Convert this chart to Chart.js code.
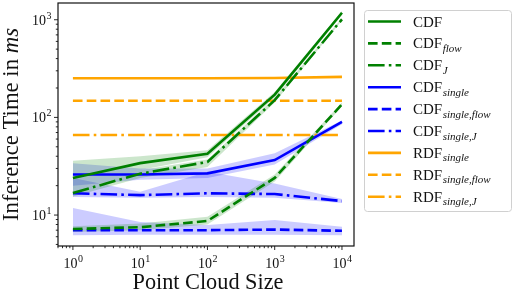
<!DOCTYPE html>
<html>
<head>
<meta charset="utf-8">
<script src="https://cdn.jsdelivr.net/npm/chart.js@4.4.1/dist/chart.umd.min.js"></script>
<style>
  html, body { margin: 0; padding: 0; background: #fff; }
  #wrap { width: 514px; height: 294px; }
</style>
</head>
<body>
<div id="wrap"><canvas id="chart" width="514" height="294"></canvas></div>
<script>
// point cloud sizes (x) and inference times in ms (y)
const sizes = [1, 10, 100, 1000, 10000];
const cdf = [24, 34, 42.5, 171, 1180];
const cdfFlow = [7.2, 7.5, 8.7, 24, 136];
const cdfJ = [16.8, 26.5, 35, 150, 1010];
const cdfSingle = [26, 26, 26.7, 36.5, 90];
const cdfSingleFlow = [7.0, 7.0, 7.0, 7.1, 6.9];
const cdfSingleJ = [16.7, 16, 16.7, 16.4, 13.9];
const rdfSingle = [252, 252, 252, 253, 260];
const rdfSingleFlow = [148, 148, 148, 148, 148];
const rdfSingleJ = [66, 66, 66, 66, 66];

// spread bands (lower / upper)
const cdfLo = [18, 29, 39, 160, 1120];
const cdfHi = [36, 40, 46, 182, 1230];
const cdfJLo = [15.5, 24, 31, 142, 980];
const cdfJHi = [18, 29, 37, 158, 1040];
const cdfFlowLo = [6.7, 7.0, 8.0, 22, 130];
const cdfFlowHi = [7.7, 8.2, 9.6, 26, 142];
const cdfSingleLo = [20, 23, 24, 33, 85];
const cdfSingleHi = [34, 30, 30, 43, 93];
const cdfSingleJLo = [15.3, 15, 15.3, 15, 13.3];
const cdfSingleJHi = [24, 17.3, 27.7, 21, 14.6];
const cdfSingleFlowLo = [6.2, 6.3, 6.3, 6.3, 6.2];
const cdfSingleFlowHi = [11.8, 8.5, 7.9, 8.9, 7.6];

const xTicks = [1, 10, 100, 1000, 10000];
const yTicks = [10, 100, 1000];

const SERIF = '"Liberation Serif", "DejaVu Serif", serif';
const GREEN = '#008000', BLUE = '#0000ff', ORANGE = '#ffa500';
const GREEN_BAND = 'rgba(0,128,0,0.2)', BLUE_BAND = 'rgba(0,0,255,0.2)';
const LW = 2.6;
const DASHED = [9.6, 4.2];
const DASHDOT = [16.6, 4.2, 2.6, 4.2];

function pts(arr) {
    return sizes.map((x, i) => ({x: x, y: arr[i]}));
}

function line(name, sub, arr, color, dash) {
    return {
        label: name + (sub ? '_' + sub : ''),
        sub: sub,
        name: name,
        data: pts(arr),
        borderColor: color,
        borderWidth: LW,
        borderDash: dash,
        pointRadius: 0,
        tension: 0,
        fill: false,
        order: 1,
    };
}

function band(arr, color, fill) {
    return {
        label: 'band',
        data: pts(arr),
        borderWidth: 0,
        borderColor: 'rgba(0,0,0,0)',
        backgroundColor: color,
        pointRadius: 0,
        tension: 0,
        fill: fill,
        order: 5,
    };
}

const lines = [
    line('CDF', '', cdf, GREEN, []),
    line('CDF', 'flow', cdfFlow, GREEN, DASHED),
    line('CDF', 'J', cdfJ, GREEN, DASHDOT),
    line('CDF', 'single', cdfSingle, BLUE, []),
    line('CDF', 'single,flow', cdfSingleFlow, BLUE, DASHED),
    line('CDF', 'single,J', cdfSingleJ, BLUE, DASHDOT),
    line('RDF', 'single', rdfSingle, ORANGE, []),
    line('RDF', 'single,flow', rdfSingleFlow, ORANGE, DASHED),
    line('RDF', 'single,J', rdfSingleJ, ORANGE, DASHDOT),
];

const bands = [
    band(cdfHi, GREEN_BAND, '+1'), band(cdfLo, GREEN_BAND, false),
    band(cdfJHi, GREEN_BAND, '+1'), band(cdfJLo, GREEN_BAND, false),
    band(cdfFlowHi, GREEN_BAND, '+1'), band(cdfFlowLo, GREEN_BAND, false),
    band(cdfSingleHi, BLUE_BAND, '+1'), band(cdfSingleLo, BLUE_BAND, false),
    band(cdfSingleJHi, BLUE_BAND, '+1'), band(cdfSingleJLo, BLUE_BAND, false),
    band(cdfSingleFlowHi, BLUE_BAND, '+1'), band(cdfSingleFlowLo, BLUE_BAND, false),
];

function powLabel(ctx, exp, x, y, align) {
    ctx.font = '14px ' + SERIF;
    const w1 = ctx.measureText('10').width;
    ctx.font = '10px ' + SERIF;
    const w2 = ctx.measureText(String(exp)).width;
    let x0 = align === 'right' ? x - w1 - w2 : x - (w1 + w2) / 2;
    ctx.textAlign = 'left';
    ctx.textBaseline = 'alphabetic';
    ctx.font = '14px ' + SERIF;
    ctx.fillText('10', x0, y);
    ctx.font = '10px ' + SERIF;
    ctx.fillText(String(exp), x0 + w1 + 0.5, y - 6);
}

// draw [text, italic] parts centred at (0,0), sized to a given total width
function fitParts(ctx, parts, width) {
    let w = 0;
    parts.forEach(p => {
        ctx.font = (p[1] ? 'italic ' : '') + '20px ' + SERIF;
        w += ctx.measureText(p[0]).width;
    });
    const size = 20 * width / w;
    let x = -width / 2;
    ctx.textAlign = 'left';
    ctx.textBaseline = 'alphabetic';
    parts.forEach(p => {
        ctx.font = (p[1] ? 'italic ' : '') + size.toFixed(2) + 'px ' + SERIF;
        ctx.fillText(p[0], x, 0);
        x += ctx.measureText(p[0]).width;
    });
}

const decor = {
    id: 'decor',
    afterDraw(chart) {
        const ctx = chart.ctx;
        const a = chart.chartArea;
        const xs = chart.scales.x, ys = chart.scales.y;
        ctx.save();
        ctx.strokeStyle = '#111';
        ctx.lineWidth = 1.2;
        ctx.setLineDash([]);
        ctx.strokeRect(a.left, a.top, a.right - a.left, a.bottom - a.top);

        ctx.fillStyle = '#111';
        ctx.lineWidth = 0.9;
        // minor and major ticks
        for (let d = -1; d <= 4; d++) {
            for (let m = 1; m <= 9; m++) {
                const v = m * Math.pow(10, d);
                if (v >= xs.min && v <= xs.max) {
                    const px = xs.getPixelForValue(v);
                    ctx.beginPath();
                    ctx.moveTo(px, a.bottom);
                    ctx.lineTo(px, a.bottom + (m === 1 ? 4 : 2.2));
                    ctx.stroke();
                }
                if (v >= ys.min && v <= ys.max) {
                    const py = ys.getPixelForValue(v);
                    ctx.beginPath();
                    ctx.moveTo(a.left, py);
                    ctx.lineTo(a.left - (m === 1 ? 4 : 2.2), py);
                    ctx.stroke();
                }
            }
        }
        xTicks.forEach(v => {
            powLabel(ctx, Math.round(Math.log10(v)), xs.getPixelForValue(v), a.bottom + 22, 'center');
        });
        yTicks.forEach(v => {
            powLabel(ctx, Math.round(Math.log10(v)), a.left - 7, ys.getPixelForValue(v) + 5, 'right');
        });

        // axis titles
        ctx.save();
        ctx.translate(208, 289);
        fitParts(ctx, [['Point Cloud Size', false]], 151);
        ctx.restore();

        ctx.save();
        ctx.translate(18, 124.5);
        ctx.rotate(-Math.PI / 2);
        fitParts(ctx, [['Inference Time in ', false], ['ms', true]], 193);
        ctx.restore();

        // legend
        ctx.beginPath();
        ctx.roundRect(364.5, 10.5, 147, 201, 3);
        ctx.fillStyle = 'rgba(255,255,255,0.8)';
        ctx.fill();
        ctx.strokeStyle = '#d0d0d0';
        ctx.lineWidth = 1;
        ctx.stroke();
        lines.forEach((ds, i) => {
            const y = 21.5 + i * 21.9;
            ctx.strokeStyle = ds.borderColor;
            ctx.lineWidth = LW;
            ctx.setLineDash(ds.borderDash);
            ctx.beginPath();
            ctx.moveTo(368, y);
            ctx.lineTo(401, y);
            ctx.stroke();
            ctx.setLineDash([]);
            ctx.fillStyle = '#111';
            ctx.textAlign = 'left';
            ctx.font = '15px ' + SERIF;
            ctx.fillText(ds.name, 413, y + 5);
            if (ds.sub) {
                const w = ctx.measureText(ds.name).width;
                ctx.font = 'italic 11px ' + SERIF;
                ctx.fillText(ds.sub, 413 + w + 0.5, y + 8.5);
            }
        });
        ctx.restore();
    }
};

new Chart(document.getElementById('chart'), {
    type: 'line',
    data: {datasets: lines.concat(bands)},
    options: {
        responsive: false,
        animation: false,
        devicePixelRatio: 1,
        layout: {padding: {left: 58, right: 160, top: 3, bottom: 48}},
        plugins: {
            legend: {display: false},
            tooltip: {enabled: false},
        },
        scales: {
            x: {type: 'logarithmic', min: 0.62, max: 15100, display: false},
            y: {type: 'logarithmic', min: 4.82, max: 1484, display: false},
        },
    },
    plugins: [decor],
});
</script>
</body>
</html>
